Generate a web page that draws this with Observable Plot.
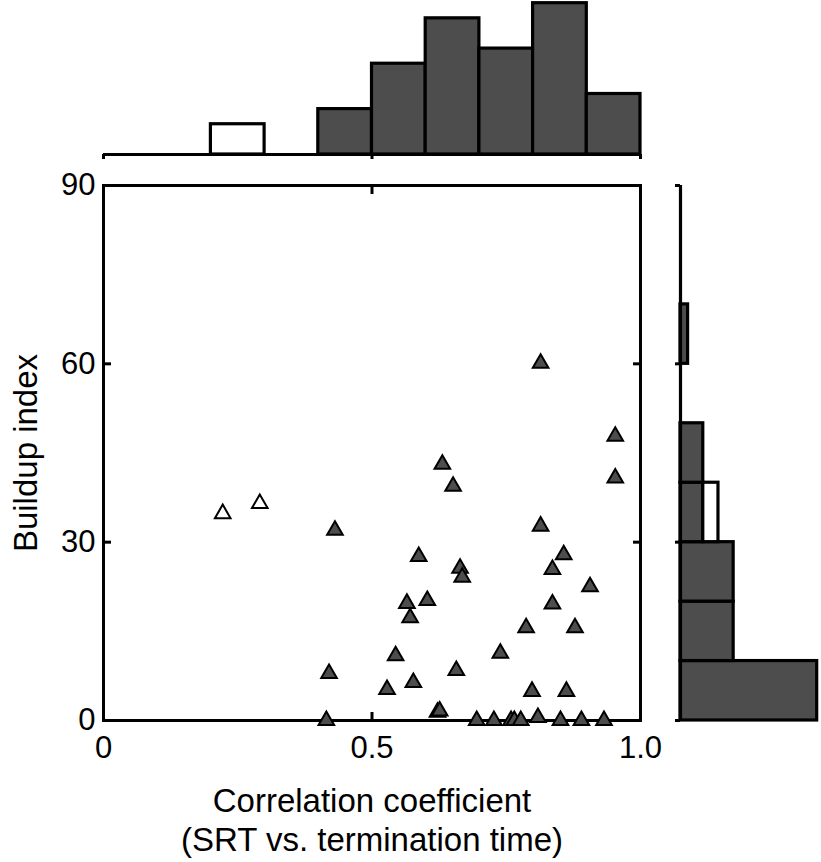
<!DOCTYPE html>
<html>
<head>
<meta charset="utf-8">
<script src="https://cdn.jsdelivr.net/npm/d3@7"></script>
<script src="https://cdn.jsdelivr.net/npm/@observablehq/plot@0.6"></script>
<style>
  html, body { margin: 0; padding: 0; background: white; }
  #wrap { position: relative; width: 821px; height: 862px; overflow: hidden; }
  #wrap svg { position: absolute; left: 0; top: 0; }
</style>
</head>
<body>
<div id="wrap"></div>
<script>
// ---- data ----
const filledX = [0.631, 0.651, 0.431, 0.587, 0.664, 0.668, 0.565, 0.603, 0.571, 0.544,
                 0.420, 0.657, 0.577, 0.528, 0.622, 0.626, 0.415,
                 0.953, 0.953, 0.814, 0.857, 0.836, 0.906, 0.836, 0.787, 0.878,
                 0.739, 0.798, 0.862, 0.814,
                 0.695, 0.727, 0.759, 0.765, 0.777, 0.809, 0.851, 0.890, 0.932];
const filledY = [43.1, 39.4, 32.0, 27.6, 25.6, 24.1, 19.7, 20.2, 17.3, 10.9,
                 7.9, 8.4, 6.4, 5.2, 1.4, 1.6, 0,
                 47.8, 40.8, 32.7, 27.9, 25.4, 22.5, 19.6, 15.6, 15.6,
                 11.3, 4.9, 4.9, 60.1,
                 0, 0, 0, 0, 0, 0.5, 0, 0, 0];
const openX = [0.222, 0.291];
const openY = [34.8, 36.5];

const groups = ["filled", "open"];
const xTicks = [0, 0.5, 1.0];
const yTicks = [0, 30, 60, 90];
const xBinEdges = [0, 0.1, 0.2, 0.3, 0.4, 0.5, 0.6, 0.7, 0.8, 0.9, 1.0];
const yBinEdges = [0, 10, 20, 30, 40, 50, 60, 70, 80, 90];
const xLabel = "Correlation coefficient\n(SRT vs. termination time)";
const yLabel = "Buildup index";

const points = [
  ...filledX.map((x, i) => ({x, y: filledY[i], group: "filled"})),
  ...openX.map((x, i) => ({x, y: openY[i], group: "open"}))
];

const FONT = "Liberation Sans, Arial, Helvetica, sans-serif";
const FS = 31;
const FS_TITLE = 33;
const colorScale = {domain: groups, range: ["#4d4d4d", "white"]};
const svgStyle = {background: "none", overflow: "visible", fontFamily: FONT};
const fmtX = d => d === 0 ? "0" : d3.format(".1f")(d);

// ---- main scatter ----
const main = Plot.plot({
  width: 821, height: 862,
  marginLeft: 103, marginRight: 181, marginTop: 185, marginBottom: 142,
  style: svgStyle,
  x: {domain: [0, 1], axis: null, label: null},
  y: {domain: [0, 90], axis: null, label: null},
  color: colorScale,
  marks: [
    Plot.frame({stroke: "black", strokeWidth: 3}),
    Plot.axisX(xTicks, {anchor: "bottom", tickSize: -8, strokeWidth: 3, tickFormat: () => "", label: null}),
    Plot.axisX(xTicks, {anchor: "top", tickSize: -8, strokeWidth: 3, tickFormat: () => "", label: null}),
    Plot.axisY(yTicks, {anchor: "left", tickSize: -8, strokeWidth: 3, tickFormat: () => "", label: null}),
    Plot.axisY(yTicks, {anchor: "right", tickSize: -8, strokeWidth: 3, tickFormat: () => "", label: null}),
    Plot.axisX(xTicks, {anchor: "bottom", tickSize: 0, tickPadding: 15, fontSize: FS, fill: "black", tickFormat: fmtX, label: null}),
    Plot.axisY(yTicks, {anchor: "left", tickSize: 0, tickPadding: 8, fontSize: FS, fill: "black", label: null}),
    Plot.text([yLabel], {frameAnchor: "left", textAnchor: "middle", rotate: -90, dx: -77, fontSize: FS_TITLE, fill: "black"}),
    Plot.text([xLabel], {frameAnchor: "bottom", textAnchor: "middle", lineAnchor: "top", dy: 63, lineHeight: 1.2, fontSize: FS_TITLE, fill: "black"}),
    Plot.dot(points, {x: "x", y: "y", symbol: "triangle", r: 5.8, fill: "group", stroke: "black", strokeWidth: 2})
  ]
});

// ---- top histogram ----
const topHist = Plot.plot({
  width: 821, height: 862,
  marginLeft: 103, marginRight: 181, marginTop: 2.7, marginBottom: 708,
  style: svgStyle,
  x: {domain: [0, 1], axis: null, label: null},
  y: {domain: [0, 10], axis: null, label: null},
  color: colorScale,
  marks: [
    Plot.rectY(points, Plot.binX({y: "count"}, {x: "x", fill: "group", thresholds: xBinEdges, inset: 0, stroke: "black", strokeWidth: 3.2})),
    Plot.ruleY([0], {stroke: "black", strokeWidth: 3.2}),
    Plot.axisX(xTicks, {anchor: "bottom", tickSize: 5, strokeWidth: 3, tickFormat: () => "", label: null})
  ]
});

// ---- right histogram ----
const rightHist = Plot.plot({
  width: 821, height: 862,
  marginLeft: 680, marginRight: 4.3, marginTop: 185, marginBottom: 142,
  style: svgStyle,
  x: {domain: [0, 18], axis: null, label: null},
  y: {domain: [0, 90], axis: null, label: null},
  color: colorScale,
  marks: [
    Plot.rectX(points, Plot.binY({x: "count"}, {y: "y", fill: "group", thresholds: yBinEdges, inset: 0, stroke: "black", strokeWidth: 3.2})),
    Plot.ruleX([0], {stroke: "black", strokeWidth: 3.2}),
    Plot.axisY(yTicks, {anchor: "left", tickSize: 5, strokeWidth: 3, tickFormat: () => "", label: null})
  ]
});

const wrap = document.getElementById("wrap");
wrap.append(topHist, rightHist, main);
</script>
</body>
</html>
